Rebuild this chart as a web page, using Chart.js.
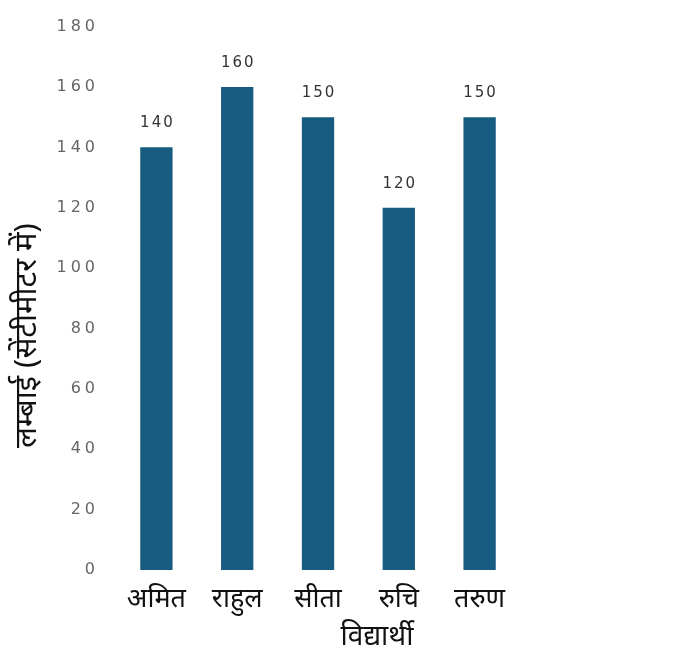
<!DOCTYPE html>
<html>
<head>
<meta charset="utf-8">
<script src="https://cdn.jsdelivr.net/npm/chart.js@4"></script>
<style>
    html, body { margin: 0; padding: 0; background: #fff; }
    #wrap { width: 681px; height: 658px; position: relative; }
</style>
</head>
<body>
<div id="wrap"><canvas id="heightChart"></canvas></div>
<script>
const students = ["अमित", "राहुल", "सीता", "रुचि", "तरुण"];
const heights = [140, 160, 150, 120, 150];
const yTicks = [0, 20, 40, 60, 80, 100, 120, 140, 160, 180];
const xTitle = "विद्यार्थी";
const yTitle = "लम्बाई (सेंटीमीटर में)";

const hindiFont = '"Noto Sans", "Noto Sans Devanagari", "Lohit Devanagari", sans-serif';
const barColor = "#175c80";

// the numbers in the picture are spaced out, so widen them a bit
const spacedYTicks = {
    id: "spacedYTicks",
    beforeLayout(chart) {
        const scale = chart.scales.y;
        if (scale._wrapped) return;
        const orig = scale.draw;
        scale.draw = function (area) {
            const ctx = this.ctx;
            ctx.save();
            ctx.letterSpacing = "4px";
            orig.call(this, area);
            ctx.restore();
        };
        scale._wrapped = true;
    },
};

const valueLabels = {
    id: "valueLabels",
    afterDatasetsDraw(chart) {
        const ctx = chart.ctx;
        const meta = chart.getDatasetMeta(0);
        ctx.save();
        ctx.letterSpacing = "2px";
        ctx.font = '15px "DejaVu Sans", sans-serif';
        ctx.fillStyle = "#333";
        ctx.textAlign = "center";
        ctx.textBaseline = "alphabetic";
        meta.data.forEach((bar, i) => {
            ctx.fillText(String(heights[i]), bar.x + 1, bar.y - 20);
        });
        ctx.restore();
    },
};

// axis titles sit off-centre in the original, so they are placed by hand
const axisTitles = {
    id: "axisTitles",
    afterDraw(chart) {
        const ctx = chart.ctx;
        const area = chart.chartArea;
        ctx.save();
        ctx.fillStyle = "#111";
        ctx.font = "28px " + hindiFont;
        ctx.textAlign = "center";
        ctx.textBaseline = "middle";
        ctx.fillText(xTitle, area.left + 261, area.bottom + 67);
        ctx.font = "31px " + hindiFont;
        ctx.translate(27, area.top + 309);
        ctx.rotate(-Math.PI / 2);
        ctx.fillText(yTitle, 0, 0);
        ctx.restore();
    },
};

const ctx = document.getElementById("heightChart").getContext("2d");
new Chart(ctx, {
    type: "bar",
    data: {
        labels: students,
        datasets: [
            {
                data: heights,
                backgroundColor: barColor,
                borderWidth: 0,
                categoryPercentage: 1,
                barPercentage: 0.4,
            },
        ],
    },
    options: {
        responsive: true,
        maintainAspectRatio: false,
        animation: false,
        layout: {
            padding: { top: 20, right: 161, bottom: 0, left: 0 },
        },
        plugins: {
            legend: { display: false },
            tooltip: { enabled: false },
        },
        scales: {
            x: {
                grid: { display: false, drawTicks: false },
                border: { display: false },
                ticks: {
                    color: "#111",
                    padding: 13,
                    font: { size: 27, family: hindiFont },
                },
                afterFit(scale) {
                    scale.height = 88;
                },
            },
            y: {
                min: 0,
                max: 180,
                grid: { display: false, drawTicks: false },
                border: { display: false },
                afterBuildTicks(scale) {
                    scale.ticks = yTicks.map((v) => ({ value: v }));
                },
                ticks: {
                    color: "#666",
                    padding: 17,
                    font: { size: 16, family: '"DejaVu Sans", sans-serif' },
                },
                afterFit(scale) {
                    scale.width = 116;
                },
            },
        },
    },
    plugins: [spacedYTicks, valueLabels, axisTitles],
});
</script>
</body>
</html>
